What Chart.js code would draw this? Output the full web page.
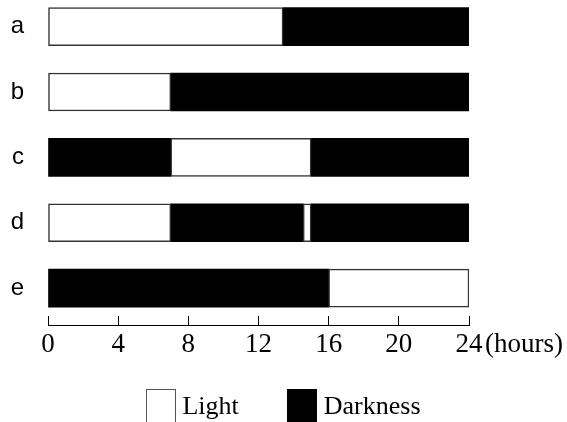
<!DOCTYPE html>
<html>
<head>
    <title>Light / Darkness schedule</title>
    <script src="https://cdn.jsdelivr.net/npm/chart.js"></script>
    <style>
        body { margin: 0; background: #fff; }
        #wrap { position: relative; width: 567px; height: 422px; overflow: hidden; }
        #legend {
            position: absolute; left: 0; top: 389px; width: 567px;
            display: flex; justify-content: center; align-items: flex-start;
            font-family: "Liberation Serif", serif; font-size: 26px; line-height: 34px; color: #000;
        }
        .box { width: 30px; height: 34px; box-sizing: border-box; }
        .light { background: #fff; border: 1px solid #555; }
        .dark { background: #000; }
    </style>
</head>
<body>
<div id="wrap">
    <canvas id="lightChart" width="567" height="422"></canvas>
    <div id="legend">
        <div class="box light"></div><span style="margin-left:6px">Light</span>
        <div class="box dark" style="margin-left:48px"></div><span style="margin-left:7px">Darkness</span>
    </div>
</div>

<script>
    // rows and segments (hours, [start, end])
    const rows = ['a', 'b', 'c', 'd', 'e'];
    const light1 = [[0, 13.4], [0, 7], [7, 15], [0, 7], [16, 24]];
    const light2 = [null, null, null, [14.55, 15], null];
    const dark1 = [[13.4, 24], [7, 24], [0, 7], [7, 14.55], [0, 16]];
    const dark2 = [null, null, [15, 24], [15, 24], null];
    const hourTicks = [0, 4, 8, 12, 16, 20, 24];

    function toPoints(arr) {
        let pts = [];
        arr.forEach((v, i) => { if (v) pts.push({x: v, y: i}); });
        return pts;
    }

    const lightStyle = {backgroundColor: '#fff', borderColor: '#333', borderWidth: 1.5, borderSkipped: false};
    const darkStyle = {backgroundColor: '#000', borderWidth: 0, borderSkipped: false};

    // draws "(hours)" after the last tick label
    const hoursLabel = {
        id: 'hoursLabel',
        afterDraw(chart) {
            const sx = chart.scales.x;
            const c = chart.ctx;
            c.save();
            c.font = '27px "Liberation Serif", serif';
            c.fillStyle = '#000';
            c.textBaseline = 'middle';
            c.textAlign = 'left';
            c.fillText('(hours)', sx.getPixelForValue(24) + 16, sx.top - 9 + 13 + 16.2);
            c.restore();
        }
    };

    let ctx = document.getElementById('lightChart').getContext('2d');
    let chart = new Chart(ctx, {
        type: 'bar',
        data: {
            datasets: [
                Object.assign({label: 'Light', data: toPoints(light1)}, lightStyle),
                Object.assign({label: 'Light', data: toPoints(light2)}, lightStyle),
                Object.assign({label: 'Darkness', data: toPoints(dark1)}, darkStyle),
                Object.assign({label: 'Darkness', data: toPoints(dark2)}, darkStyle)
            ]
        },
        options: {
            indexAxis: 'y',
            responsive: false,
            animation: false,
            datasets: {
                bar: {grouped: false, barThickness: 38}
            },
            layout: {padding: {top: 0, right: 98, bottom: 57, left: 0}},
            plugins: {
                legend: {display: false},
                tooltip: {enabled: false}
            },
            scales: {
                x: {
                    type: 'linear',
                    min: 0,
                    max: 24,
                    afterBuildTicks: s => { s.ticks = hourTicks.map(v => ({value: v})); },
                    afterFit: s => { s.height = 40; },
                    ticks: {
                        color: '#000',
                        padding: 13,
                        font: {family: '"Liberation Serif", serif', size: 27}
                    },
                    grid: {
                        drawOnChartArea: false,
                        tickLength: -9,
                        color: '#000',
                        lineWidth: 1
                    },
                    border: {color: '#000', width: 1}
                },
                y: {
                    type: 'linear',
                    reverse: true,
                    offset: false,
                    min: -0.408,
                    max: 4.565,
                    afterBuildTicks: s => { s.ticks = rows.map((r, i) => ({value: i})); },
                    afterFit: s => {
                        s.width = 48;
                        s.paddingTop = 0;
                        s.paddingBottom = 0;
                    },
                    ticks: {
                        color: '#000',
                        padding: 24,
                        font: {family: '"Liberation Sans", Arial, sans-serif', size: 24},
                        callback: v => rows[v]
                    },
                    grid: {display: false, drawTicks: false, offset: false},
                    border: {display: false}
                }
            }
        },
        plugins: [hoursLabel]
    });
</script>
</body>
</html>
